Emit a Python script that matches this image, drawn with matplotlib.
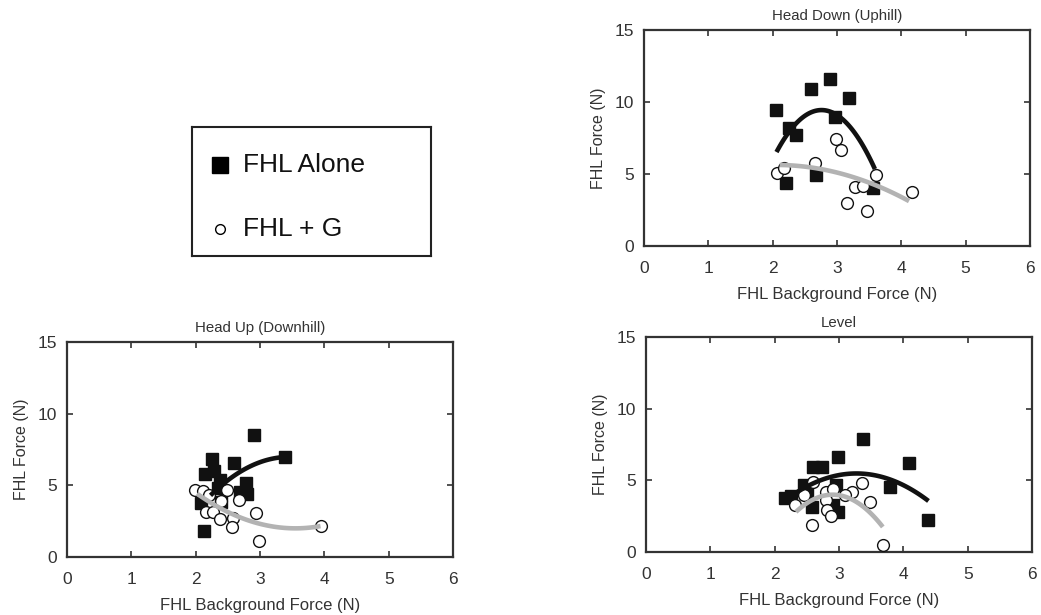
import numpy as np
import matplotlib
matplotlib.use("Agg")
import matplotlib.pyplot as plt

plt.rcParams['font.family'] = ['Liberation Sans', 'DejaVu Sans']

INK = '#333333'
GREY_FIT = '#b3b3b3'

# Head Down (Uphill)
up_alone_x = [2.06, 2.59, 2.89, 3.18, 2.26, 2.36, 2.97, 2.21, 2.68, 3.56]
up_alone_y = [9.44, 10.88, 11.6, 10.25, 8.17, 7.71, 8.98, 4.35, 4.93, 4.0]
up_g_x = [2.07, 2.18, 2.66, 2.98, 3.06, 3.61, 3.28, 3.41, 3.16, 3.47, 4.16]
up_g_y = [5.09, 5.39, 5.74, 7.43, 6.67, 4.93, 4.12, 4.17, 2.96, 2.4, 3.73]

# Head Up (Downhill)
down_alone_x = [2.90, 3.39, 2.26, 2.59, 2.15, 2.28, 2.38, 2.78, 2.69, 2.79,
                2.34, 2.39, 2.08, 2.13]
down_alone_y = [8.51, 6.96, 6.82, 6.58, 5.79, 6.02, 5.37, 5.18, 4.56, 4.40,
                4.79, 3.86, 3.75, 1.80]
down_g_x = [1.99, 2.11, 2.21, 2.48, 2.68, 2.39, 2.16, 2.27, 2.37, 2.58,
            2.56, 2.94, 2.98, 3.95]
down_g_y = [4.68, 4.60, 4.33, 4.68, 3.98, 3.91, 3.16, 3.16, 2.65, 2.74,
            2.07, 3.05, 1.12, 2.14]

# Level
lev_alone_x = [3.38, 2.99, 4.08, 2.60, 2.73, 2.16, 2.26, 2.45, 2.50, 2.58,
               2.91, 2.99, 2.96, 3.79, 4.39]
lev_alone_y = [7.88, 6.65, 6.19, 5.95, 5.95, 3.75, 3.93, 4.67, 4.21, 3.12,
               3.28, 2.81, 4.67, 4.51, 2.23]
lev_g_x = [2.60, 2.32, 2.58, 2.80, 2.90, 2.80, 2.82, 2.87, 3.20, 3.35,
           3.48, 3.09, 3.68, 2.45]
lev_g_y = [4.91, 3.28, 1.88, 4.21, 4.38, 3.63, 2.93, 2.51, 4.21, 4.79,
           3.51, 3.98, 0.50, 3.98]

# quadratic fits: (x start, x end, x of vertex, y of vertex, curvature)
up_fit_alone = (2.06, 3.59, 2.76, 9.44, -5.95)
up_fit_g = (2.11, 4.12, 2.05, 5.63, -0.586)
down_fit_alone = (2.23, 3.40, 3.45, 6.98, -1.8)
down_fit_g = (2.02, 3.94, 3.55, 2.0, 1.034)
lev_fit_alone = (2.32, 4.39, 3.27, 5.48, -1.53)
lev_fit_g = (2.33, 3.68, 2.9, 4.0, -3.7)

x_ticks = [0, 1, 2, 3, 4, 5, 6]
y_ticks = [0, 5, 10, 15]


def fit_curve(ax, fit, color):
    x0, x1, xv, yv, k = fit
    xs = np.linspace(x0, x1, 100)
    ax.plot(xs, yv + k * (xs - xv) ** 2, color=color, lw=3.3,
            solid_capstyle='butt', zorder=4)


def panel(ax, title, ax_x, ax_y, g_x, g_y, fit_a, fit_g):
    ax.plot(ax_x, ax_y, 's', ms=8, color='#111111', mec='#111111', zorder=2)
    ax.plot(g_x, g_y, 'o', ms=8.5, mfc='white', mec='#111111', mew=1.0,
            zorder=3)
    fit_curve(ax, fit_a, '#111111')
    fit_curve(ax, fit_g, GREY_FIT)
    ax.set_xlim(0, 6)
    ax.set_ylim(0, 15)
    ax.set_xticks(x_ticks)
    ax.set_yticks(y_ticks)
    ax.tick_params(direction='in', length=4, width=1.2, color=INK,
                   top=True, right=True, labelsize=12.5, labelcolor=INK)
    ax.tick_params(axis='x', pad=11)
    ax.tick_params(axis='y', pad=7)
    for s in ax.spines.values():
        s.set_linewidth(1.6)
        s.set_color(INK)
    ax.set_title(title, fontsize=10.8, color=INK, pad=7)
    ax.set_xlabel('FHL Background Force (N)', fontsize=12, color=INK,
                  labelpad=8)
    ax.set_ylabel('FHL Force (N)', fontsize=11.5, color=INK, labelpad=6)


fig = plt.figure(figsize=(10.41, 6.15), dpi=100)

ax_up = fig.add_axes([0.6186, 0.600, 0.3708, 0.3512])
panel(ax_up, 'Head Down (Uphill)', up_alone_x, up_alone_y, up_g_x, up_g_y,
      up_fit_alone, up_fit_g)

ax_down = fig.add_axes([0.0644, 0.0943, 0.3708, 0.3496])
panel(ax_down, 'Head Up (Downhill)', down_alone_x, down_alone_y,
      down_g_x, down_g_y, down_fit_alone, down_fit_g)

ax_lev = fig.add_axes([0.6206, 0.1024, 0.3708, 0.3496])
panel(ax_lev, 'Level', lev_alone_x, lev_alone_y, lev_g_x, lev_g_y,
      lev_fit_alone, lev_fit_g)

# legend box drawn as its own axes
leg = fig.add_axes([0.1844, 0.5837, 0.2296, 0.2098])
leg.set_xlim(0, 1)
leg.set_ylim(0, 1)
leg.set_xticks([])
leg.set_yticks([])
for s in leg.spines.values():
    s.set_linewidth(1.5)
    s.set_color('#222222')
leg.plot([0.117], [0.705], 's', ms=11.5, color='black')
leg.plot([0.117], [0.209], 'o', ms=7, mfc='white', mec='black', mew=1.0)
leg.text(0.213, 0.705, 'FHL Alone', fontsize=19, va='center', ha='left',
         color='#111111')
leg.text(0.213, 0.209, 'FHL + G', fontsize=19, va='center', ha='left',
         color='#111111')

fig.savefig('out.png', dpi=100)
